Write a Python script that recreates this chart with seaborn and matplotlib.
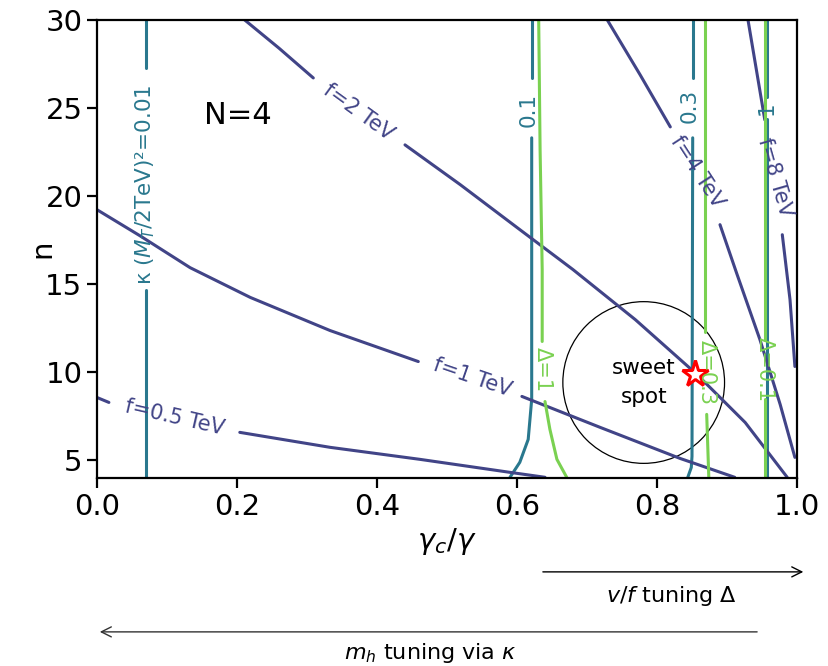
import numpy as np
import matplotlib
matplotlib.use('Agg')
import matplotlib.pyplot as plt
from matplotlib.patches import Ellipse
import seaborn as sns

# %%
# contour curves; NaN marks the gap left for the inline label
f05_x = [0.0, 0.017, np.nan, 0.204, 0.333, 0.461, 0.59, 0.64]
f05_y = [8.57, 8.29, np.nan, 6.59, 5.74, 5.06, 4.32, 4.04]
f1_x = [0.0, 0.061, 0.133, 0.219, 0.333, 0.459, np.nan, 0.607, 0.719, 0.833, 0.911]
f1_y = [19.23, 17.76, 15.94, 14.25, 12.37, 10.61, np.nan, 8.63, 6.87, 5.11, 4.04]
f2_x = [0.211, 0.26, 0.309, np.nan, 0.44, 0.519, 0.604, 0.68, 0.769, 0.857, 0.926, 0.986]
f2_y = [30.0, 28.4, 26.71, np.nan, 22.91, 20.65, 18.1, 15.83, 12.99, 9.88, 7.15, 4.04]
f4_x = [0.729, 0.776, 0.819, np.nan, 0.89, 0.914, 0.947, 0.976, 0.997]
f4_y = [30.0, 26.88, 23.93, np.nan, 18.38, 15.6, 11.86, 8.17, 5.17]
f8_x = [0.93, 0.954, np.nan, 0.979, 0.99, 0.997]
f8_y = [30.0, 24.33, np.nan, 17.81, 14.13, 10.33]

k001_x = [0.07, 0.07, np.nan, 0.07, 0.07]
k001_y = [30.0, 27.28, np.nan, 14.69, 4.0]
k01_x = [0.621, 0.621, np.nan, 0.621, 0.621, 0.616, 0.604, 0.59]
k01_y = [30.0, 26.71, np.nan, 23.31, 8.46, 6.19, 4.89, 4.04]
k03_x = [0.851, 0.851, np.nan, 0.851, 0.85, 0.849, 0.844]
k03_y = [30.0, 26.71, np.nan, 23.31, 5.23, 4.6, 4.04]
k1_x = [0.957, 0.957, np.nan, 0.957, 0.957]
k1_y = [30.0, 25.6, np.nan, 24.4, 4.0]

d1_x = [0.631, 0.633, 0.636, 0.636, np.nan, 0.64, 0.647, 0.657, 0.671]
d1_y = [30.0, 22.63, 15.83, 11.75, np.nan, 8.34, 6.76, 5.06, 4.04]
d03_x = [0.869, 0.869, np.nan, 0.871, 0.874]
d03_y = [30.0, 12.26, np.nan, 7.61, 4.04]
d01_x = [0.954, 0.954, np.nan, 0.954, 0.954]
d01_y = [30.0, 11.86, np.nan, 8.46, 4.0]

# inline label text, position (data) and rotation (screen degrees)
f_labels = ['f=0.5 TeV', 'f=1 TeV', 'f=2 TeV', 'f=4 TeV', 'f=8 TeV']
f_lab_x = [0.111, 0.536, 0.373, 0.857, 0.969]
f_lab_y = [7.44, 9.71, 24.78, 21.38, 21.04]
f_lab_rot = [-13, -19, -36, -57, -74]

k_labels = ['κ ($M_T$/2TeV)²=0.01', '0.1', '0.3', '1']
k_lab_x = [0.069, 0.617, 0.847, 0.956]
k_lab_y = [20.65, 24.9, 25.1, 25.0]

d_labels = ['Δ=1', 'Δ=0.3', 'Δ=0.1']
d_lab_x = [0.637, 0.871, 0.954]
d_lab_y = [10.16, 10.0, 10.16]

star_x, star_y = 0.855, 9.9
spot_x, spot_y = 0.781, 9.42

f_color = '#414487'
k_color = '#2a788e'
d_color = '#7ad151'

# %%
sns.set_style('ticks')
plt.rcParams['font.family'] = ['DejaVu Sans']
for key in ['text.color', 'axes.labelcolor', 'xtick.color', 'ytick.color', 'axes.edgecolor']:
    plt.rcParams[key] = 'black'

fig = plt.figure(figsize=(8.29, 6.66), dpi=100)
ax = fig.add_axes([0.117, 0.2823, 0.8444, 0.6877])


def draw_curve(xs, ys, color):
    xs = np.asarray(xs, float)
    ys = np.asarray(ys, float)
    breaks = np.where(np.isnan(xs))[0]
    for seg_x, seg_y in zip(np.split(xs, breaks), np.split(ys, breaks)):
        ok = ~np.isnan(seg_x)
        sns.lineplot(x=seg_x[ok], y=seg_y[ok], sort=False, estimator=None,
                     color=color, lw=2.2, ax=ax)


for xs, ys in [(k001_x, k001_y), (k01_x, k01_y), (k03_x, k03_y), (k1_x, k1_y)]:
    draw_curve(xs, ys, k_color)
for xs, ys in [(f05_x, f05_y), (f1_x, f1_y), (f2_x, f2_y), (f4_x, f4_y), (f8_x, f8_y)]:
    draw_curve(xs, ys, f_color)
for xs, ys in [(d1_x, d1_y), (d03_x, d03_y), (d01_x, d01_y)]:
    draw_curve(xs, ys, d_color)

for t, x, y, r in zip(f_labels, f_lab_x, f_lab_y, f_lab_rot):
    ax.text(x, y, t, color=f_color, fontsize=15, rotation=r,
            rotation_mode='anchor', ha='center', va='center')
for t, x, y in zip(k_labels, k_lab_x, k_lab_y):
    ax.text(x, y, t, color=k_color, fontsize=15.5, rotation=90,
            rotation_mode='anchor', ha='center', va='center')
for t, x, y in zip(d_labels, d_lab_x, d_lab_y):
    ax.text(x, y, t, color=d_color, fontsize=15, rotation=-90,
            rotation_mode='anchor', ha='center', va='center')

ax.text(0.201, 24.6, 'N=4', fontsize=22, ha='center', va='center')

# sweet spot
ax.add_patch(Ellipse((spot_x, spot_y), 0.231, 9.18, fill=False, ec='black', lw=0.9))
ax.text(spot_x, spot_y, 'sweet\nspot', fontsize=15.5, ha='center', va='center',
        linespacing=1.55)
ax.plot(star_x, star_y, marker='*', ms=20, mfc='white', mec='red', mew=2.2)

ax.set_xlim(0, 1)
ax.set_ylim(4, 30)
ax.set_xticks([0.0, 0.2, 0.4, 0.6, 0.8, 1.0])
ax.set_xticklabels(['0.0', '0.2', '0.4', '0.6', '0.8', '1.0'])
ax.set_yticks([5, 10, 15, 20, 25, 30])
ax.tick_params(labelsize=21, length=7, width=1.6, direction='out', colors='black')
for sp in ax.spines.values():
    sp.set_linewidth(1.6)
    sp.set_visible(True)
ax.set_xlabel(r'$\gamma_c/\gamma$', fontsize=21)
ax.set_ylabel('n', fontsize=21, labelpad=-8)

# tuning arrows below the axes
ax.annotate('', xy=(1.013, -0.205), xytext=(0.633, -0.205), xycoords='axes fraction',
            arrowprops=dict(arrowstyle='->', color='black', lw=1.0, mutation_scale=18),
            annotation_clip=False)
ax.text(0.821, -0.257, r'$v/f$ tuning $\Delta$', transform=ax.transAxes,
        fontsize=16, ha='center', va='center')
ax.annotate('', xy=(0.0, -0.336), xytext=(0.947, -0.336), xycoords='axes fraction',
            arrowprops=dict(arrowstyle='->', color='#333333', lw=1.0, mutation_scale=18),
            annotation_clip=False)
ax.text(0.476, -0.382, r'$m_h$ tuning via $\kappa$', transform=ax.transAxes,
        fontsize=16, ha='center', va='center')

fig.savefig('out.png', dpi=100)
